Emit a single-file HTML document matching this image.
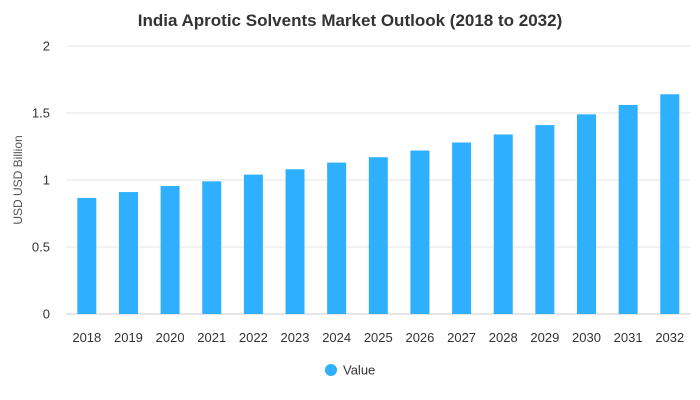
<!DOCTYPE html>
<html><head><meta charset="utf-8"><style>
body{margin:0;background:#fff;}
svg{display:block;font-family:"Liberation Sans",Arial,sans-serif;}
</style></head><body>
<svg id="chart" width="700" height="400">
<text x="350" y="26" text-anchor="middle" font-size="17" font-weight="bold" fill="#333">India Aprotic Solvents Market Outlook (2018 to 2032)</text>
<text transform="translate(22,180) rotate(-90)" text-anchor="middle" font-size="12" fill="#555">USD USD Billion</text>
<g id="grid"></g><g id="bars"></g><g id="xlabels"></g>
<g>
<circle cx="331" cy="370" r="6" fill="#2fb0ff"></circle>
<text x="343" y="374.5" font-size="13" fill="#333">Value</text>
</g>
</svg>
<script>
const categories=["2018","2019","2020","2021","2022","2023","2024","2025","2026","2027","2028","2029","2030","2031","2032"];
const values=[0.866,0.91,0.955,0.99,1.04,1.08,1.13,1.17,1.22,1.28,1.34,1.41,1.49,1.56,1.64];
const yTicks=[0,0.5,1,1.5,2];
const yTickLabels=["0","0.5","1","1.5","2"];
const NS="http://www.w3.org/2000/svg";
const plotLeft=66,plotRight=690.6,plotTop=46,plotBottom=314,yMax=2;
const yScale=v=>plotBottom-(v/yMax)*(plotBottom-plotTop);
const band=(plotRight-plotLeft)/categories.length;
const xScale=i=>plotLeft+band*i+band/2;
const grid=document.getElementById('grid'),bars=document.getElementById('bars'),xl=document.getElementById('xlabels');
yTicks.forEach((t,i)=>{
 const l=document.createElementNS(NS,'line');
 l.setAttribute('x1',plotLeft);l.setAttribute('x2',plotRight);l.setAttribute('y1',yScale(t));l.setAttribute('y2',yScale(t));
 l.setAttribute('stroke',t===0?'#ccc':'#e6e6e6');l.setAttribute('stroke-width','1');
 
 
 grid.appendChild(l);
 const tx=document.createElementNS(NS,'text');
 tx.setAttribute('x',50);tx.setAttribute('y',yScale(t)+4.5);tx.setAttribute('text-anchor','end');tx.setAttribute('font-size','13');tx.setAttribute('fill','#333');
 tx.textContent=yTickLabels[i];
 
 
 grid.appendChild(tx);
});
categories.forEach((c,i)=>{
 const r=document.createElementNS(NS,'rect');
 const bw=19;
 r.setAttribute('x',xScale(i)-bw/2);r.setAttribute('width',bw);r.setAttribute('y',yScale(values[i]));r.setAttribute('height',plotBottom-yScale(values[i]));
 r.setAttribute('fill','#2fb0ff');
 
 
 bars.appendChild(r);
 const tx=document.createElementNS(NS,'text');
 tx.setAttribute('x',xScale(i));tx.setAttribute('y',342);tx.setAttribute('text-anchor','middle');tx.setAttribute('font-size','13');tx.setAttribute('fill','#333');
 tx.textContent=c;
 
 
 xl.appendChild(tx);
});
</script>
</body></html>
